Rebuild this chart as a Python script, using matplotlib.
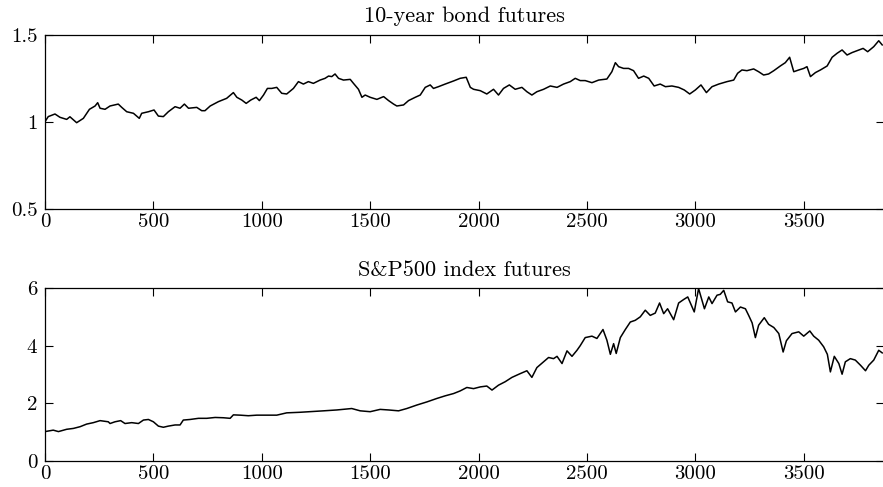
import matplotlib
matplotlib.use("Agg")
import matplotlib.pyplot as plt
from matplotlib.ticker import FuncFormatter

plt.rcParams['font.family'] = ['cmr10', 'DejaVu Serif']
plt.rcParams['axes.formatter.use_mathtext'] = True

# ---- data ----
bond_t = [0, 15, 46, 69, 100, 115, 146, 177, 205, 231, 243, 254, 277, 300, 338, 354, 377, 408,
          435, 446, 477, 503, 523, 546, 569, 600, 623, 643, 662, 700, 723, 738, 762, 800, 838,
          869, 885, 908, 928, 949, 974, 989, 1008, 1026, 1046, 1069, 1092, 1115, 1146, 1169,
          1192, 1215, 1238, 1269, 1292, 1308, 1323, 1338, 1354, 1377, 1408, 1423, 1446, 1462,
          1477, 1500, 1531, 1562, 1585, 1608, 1623, 1654, 1677, 1708, 1731, 1754, 1777, 1792,
          1815, 1846, 1885, 1915, 1943, 1962, 1977, 2008, 2038, 2069, 2092, 2115, 2142, 2169,
          2200, 2223, 2246, 2269, 2300, 2331, 2362, 2392, 2423, 2446, 2469, 2492, 2523, 2554,
          2592, 2615, 2631, 2646, 2669, 2692, 2715, 2738, 2762, 2785, 2810, 2838, 2862, 2892,
          2923, 2949, 2974, 3000, 3026, 3051, 3077, 3108, 3146, 3177, 3195, 3215, 3238, 3269,
          3292, 3315, 3338, 3362, 3392, 3415, 3435, 3454, 3477, 3500, 3515, 3531, 3554, 3577,
          3608, 3631, 3654, 3677, 3700, 3723, 3746, 3774, 3795, 3823, 3846, 3862]
bond_v = [1.002, 1.031, 1.046, 1.027, 1.015, 1.030, 0.996, 1.021, 1.073, 1.092, 1.111, 1.079,
          1.073, 1.092, 1.103, 1.084, 1.059, 1.050, 1.021, 1.050, 1.059, 1.069, 1.034, 1.031,
          1.059, 1.088, 1.079, 1.103, 1.079, 1.084, 1.065, 1.065, 1.092, 1.117, 1.136, 1.169,
          1.142, 1.126, 1.107, 1.126, 1.142, 1.123, 1.155, 1.193, 1.193, 1.199, 1.165, 1.161,
          1.193, 1.232, 1.218, 1.232, 1.222, 1.241, 1.251, 1.264, 1.261, 1.276, 1.251, 1.241,
          1.245, 1.222, 1.188, 1.142, 1.155, 1.142, 1.130, 1.146, 1.123, 1.103, 1.092, 1.098,
          1.123, 1.142, 1.155, 1.199, 1.213, 1.193, 1.203, 1.218, 1.236, 1.251, 1.257, 1.199,
          1.188, 1.180, 1.161, 1.188, 1.155, 1.193, 1.213, 1.188, 1.199, 1.174, 1.155, 1.174,
          1.188, 1.207, 1.199, 1.218, 1.232, 1.251, 1.238, 1.238, 1.226, 1.241, 1.247, 1.289,
          1.341, 1.318, 1.308, 1.308, 1.295, 1.251, 1.264, 1.251, 1.207, 1.218, 1.203, 1.207,
          1.199, 1.184, 1.161, 1.184, 1.213, 1.169, 1.203, 1.218, 1.232, 1.241, 1.280, 1.299,
          1.295, 1.305, 1.289, 1.270, 1.276, 1.295, 1.322, 1.341, 1.372, 1.289, 1.299, 1.308,
          1.318, 1.261, 1.284, 1.299, 1.322, 1.372, 1.395, 1.414, 1.385, 1.399, 1.410, 1.423,
          1.404, 1.433, 1.467, 1.443]

sp_t = [0, 38, 62, 100, 131, 162, 192, 223, 254, 292, 300, 323, 349, 369, 400, 431, 454, 477,
        500, 523, 546, 569, 600, 623, 638, 669, 708, 746, 785, 823, 854, 869, 900, 938, 977,
        1023, 1069, 1115, 1146, 1177, 1223, 1285, 1346, 1415, 1454, 1500, 1546, 1585, 1631,
        1669, 1715, 1762, 1808, 1846, 1885, 1915, 1946, 1977, 2008, 2038, 2062, 2092, 2123,
        2154, 2192, 2223, 2246, 2269, 2300, 2323, 2346, 2362, 2385, 2408, 2431, 2454, 2469,
        2492, 2523, 2546, 2574, 2592, 2608, 2623, 2635, 2654, 2677, 2700, 2723, 2746, 2769,
        2792, 2815, 2835, 2854, 2872, 2900, 2923, 2946, 2965, 2977, 2995, 3015, 3031, 3042,
        3062, 3077, 3100, 3115, 3131, 3149, 3169, 3185, 3208, 3231, 3246, 3262, 3277, 3292,
        3318, 3338, 3362, 3385, 3405, 3420, 3446, 3477, 3500, 3528, 3546, 3569, 3592, 3609,
        3623, 3641, 3662, 3677, 3692, 3715, 3738, 3762, 3785, 3800, 3823, 3846, 3862]
sp_v = [1.02, 1.07, 1.02, 1.10, 1.13, 1.19, 1.28, 1.33, 1.40, 1.36, 1.30, 1.36, 1.40, 1.30,
        1.33, 1.30, 1.42, 1.44, 1.36, 1.21, 1.17, 1.21, 1.25, 1.25, 1.42, 1.44, 1.48, 1.48,
        1.51, 1.50, 1.48, 1.60, 1.59, 1.57, 1.59, 1.59, 1.59, 1.67, 1.68, 1.69, 1.71, 1.74,
        1.77, 1.82, 1.74, 1.71, 1.79, 1.77, 1.74, 1.82, 1.94, 2.05, 2.17, 2.26, 2.34, 2.43,
        2.55, 2.51, 2.57, 2.60, 2.46, 2.63, 2.75, 2.90, 3.03, 3.13, 2.90, 3.24, 3.44, 3.59,
        3.55, 3.63, 3.38, 3.82, 3.63, 3.84, 4.00, 4.28, 4.33, 4.25, 4.56, 4.19, 3.70, 4.07,
        3.73, 4.28, 4.56, 4.82, 4.88, 5.00, 5.23, 5.05, 5.13, 5.48, 5.11, 5.28, 4.90, 5.48,
        5.60, 5.69, 5.48, 5.17, 5.98, 5.57, 5.28, 5.69, 5.46, 5.75, 5.78, 5.92, 5.52, 5.48,
        5.17, 5.34, 5.28, 5.05, 4.79, 4.28, 4.71, 4.97, 4.74, 4.63, 4.42, 3.78, 4.17, 4.42,
        4.48, 4.33, 4.51, 4.33, 4.19, 3.96, 3.70, 3.09, 3.63, 3.38, 3.01, 3.44, 3.55, 3.50,
        3.32, 3.13, 3.32, 3.50, 3.84, 3.75]

titles = ["10-year bond futures", "S&P500 index futures"]
xticks = [0, 500, 1000, 1500, 2000, 2500, 3000, 3500]
yticks_top = [0.5, 1, 1.5]
yticks_bot = [0, 2, 4, 6]

W, H = 883, 487
fig = plt.figure(figsize=(W / 100, H / 100), dpi=100)
left = 45 / W
width = (883.5 - 45) / W
ax1 = fig.add_axes([left, 1 - 209 / H, width, (209 - 35) / H])
ax2 = fig.add_axes([left, 1 - 461 / H, width, (461 - 288) / H])

fmt = FuncFormatter(lambda v, p: f"{v:g}")
for ax, t, v, title, yt, tpad in [(ax1, bond_t, bond_v, titles[0], yticks_top, 9.5),
                                  (ax2, sp_t, sp_v, titles[1], yticks_bot, 8.5)]:
    ax.plot(t, v, color='black', lw=1.1)
    ax.set_xlim(0, 3868)
    ax.set_ylim(yt[0], yt[-1])
    ax.set_xticks(xticks)
    ax.set_yticks(yt)
    ax.yaxis.set_major_formatter(fmt)
    ax.xaxis.set_major_formatter(fmt)
    ax.tick_params(direction='in', top=True, right=True, length=5.5, width=0.8,
                   labelsize=15)
    ax.tick_params(axis='y', pad=5.5)
    ax.tick_params(axis='x', pad=3)
    for s in ax.spines.values():
        s.set_linewidth(0.9)
    ax.set_title(title, fontsize=16, pad=tpad)

fig.savefig("out.png", dpi=100)
